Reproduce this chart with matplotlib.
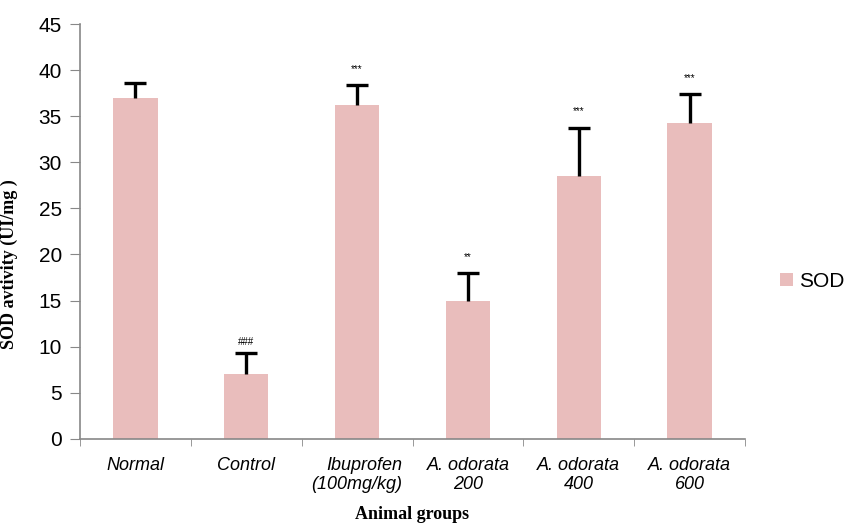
import matplotlib.pyplot as plt
import numpy as np

groups = ["Normal", "Control", "Ibuprofen\n(100mg/kg)", "A. odorata\n200", "A. odorata\n400", "A. odorata\n600"]
sod = [37.0, 7.0, 36.2, 15.0, 28.5, 34.3]
sod_err = [1.6, 2.3, 2.2, 3.0, 5.3, 3.1]
marks = ["", "###", "***", "**", "***", "***"]

fig = plt.figure(figsize=(8.49, 5.25), dpi=100)
ax = fig.add_axes([80 / 849, 1 - 438.5 / 525, 665 / 849, 414 / 525])

x = np.arange(len(groups))
ax.bar(x, sod, width=0.4, color="#E9BDBC", label="SOD", zorder=2)
eb = ax.errorbar(x, sod, yerr=[np.zeros(len(sod)), sod_err], fmt="none",
                 ecolor="black", elinewidth=2.4, capsize=8, capthick=2.4, zorder=3)
eb[1][0].set_visible(False)  # only the upper cap
for xi, v, e, m in zip(x, sod, sod_err, marks):
    if m:
        off = 0.6 if m.startswith("#") else 1.2
        ax.text(xi, v + e + off, m, ha="center", va="bottom", fontsize=7,
                family="Liberation Sans")

ax.set_xlim(-0.5, len(groups) - 0.5)
ax.set_ylim(0, 45)
ax.set_yticks(range(0, 46, 5))
ax.set_yticklabels([str(t) for t in range(0, 46, 5)], family="Liberation Sans", fontsize=15)
ax.set_xticks(x)
ax.set_xticklabels(groups, family="Liberation Sans", style="italic", fontsize=13)
ax.get_xticklabels()[2].set_multialignment("right")
ax.set_xticks(np.arange(len(groups) + 1) - 0.5, minor=True)
ax.tick_params(axis="x", which="major", length=0, pad=13)
ax.tick_params(axis="x", which="minor", length=5, color="#888888", direction="out")
ax.tick_params(axis="y", length=7, color="#888888", pad=6)

for s in ["top", "right"]:
    ax.spines[s].set_visible(False)
for s in ["left", "bottom"]:
    ax.spines[s].set_color("#888888")
    ax.spines[s].set_linewidth(1.2)

ax.set_ylabel("SOD avtivity (UI/mg )", family="Liberation Serif", fontweight="bold", fontsize=13)
ax.yaxis.set_label_coords(-0.093, 0.42)
ax.set_xlabel("Animal groups", family="Liberation Serif", fontweight="bold", fontsize=13)
ax.xaxis.set_label_coords(0.5, -0.163)

ax.legend(loc="center left", bbox_to_anchor=(1.025, 0.38), frameon=False,
          prop={"family": "Liberation Sans", "size": 15},
          handlelength=0.6, handleheight=0.6, handletextpad=0.3)

plt.savefig("out.png", dpi=100)
plt.close()
